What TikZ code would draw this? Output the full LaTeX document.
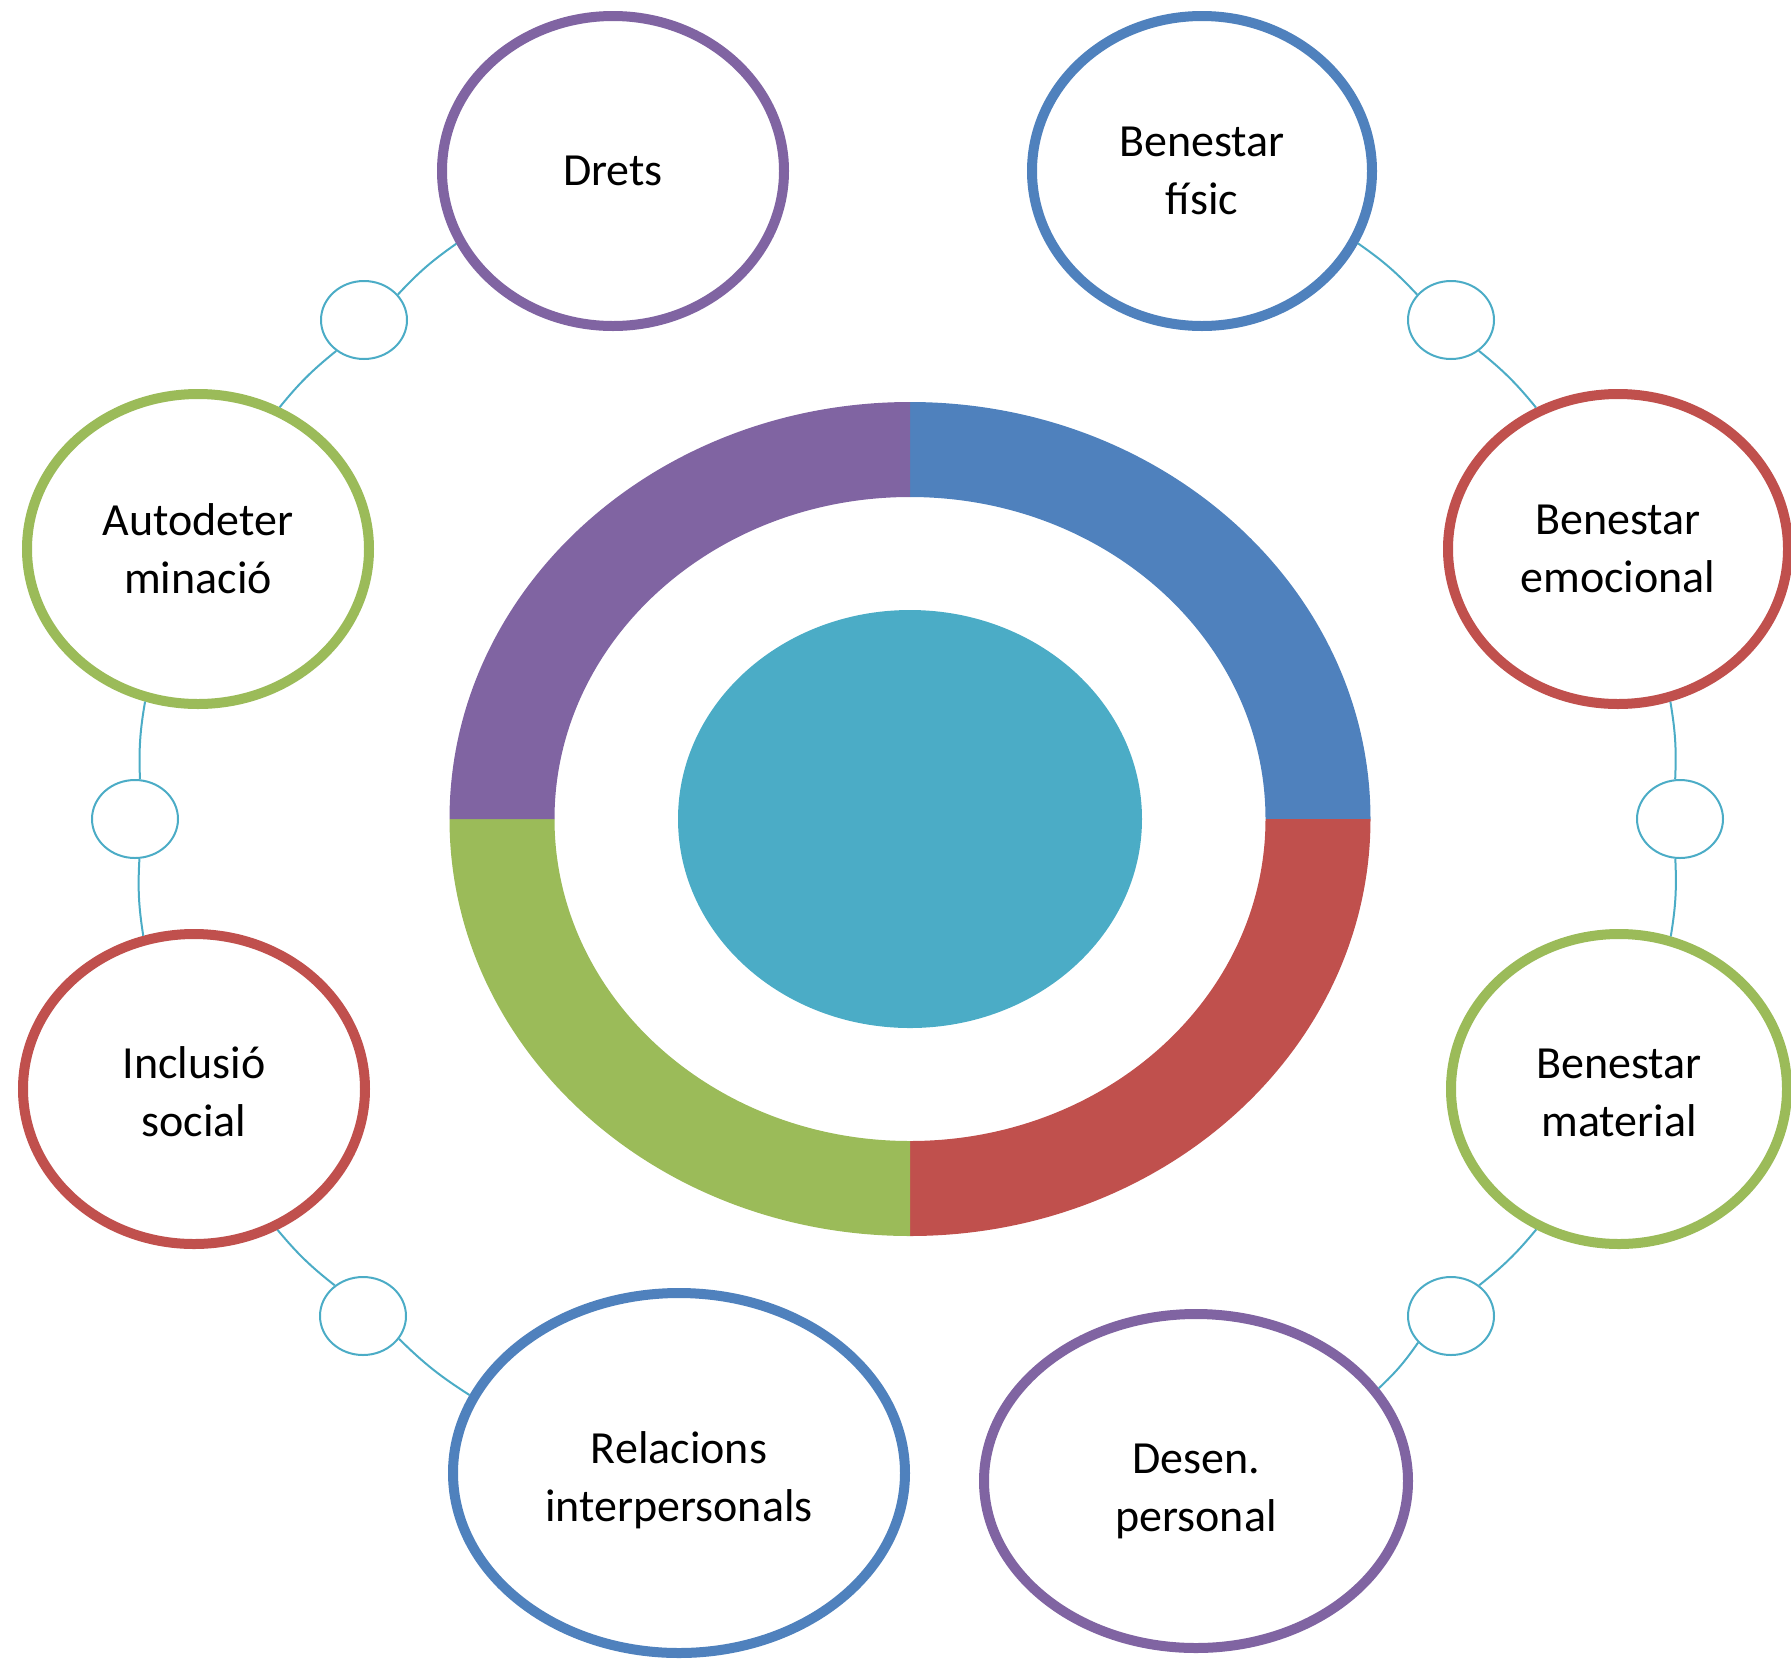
\documentclass[tikz,border=0pt]{standalone}
\usepackage{fontspec}
\setmainfont{Carlito}
\usetikzlibrary{shapes.geometric}
\definecolor{cblue}{HTML}{4F81BD}
\definecolor{cred}{HTML}{C0504D}
\definecolor{cgreen}{HTML}{9BBB59}
\definecolor{cpurple}{HTML}{8064A2}
\definecolor{cteal}{HTML}{4BACC6}
\begin{document}
\begin{tikzpicture}[x=1pt,y=1pt,
  big/.style={ellipse, draw, line width=10pt, fill=white, inner sep=0pt, align=center,
    font=\fontsize{46}{58}\selectfont, text=black},
  small/.style={ellipse, draw=cteal, line width=2pt, fill=white, minimum width=86pt,
    minimum height=78pt, inner sep=0pt},
  conn/.style={draw=cteal, line width=2pt}]
\useasboundingbox (0,0) rectangle (1791,-1658);
% central ring
\fill[cblue] (910,-402) arc[start angle=90,end angle=0,x radius=460.5,y radius=417]
  -- (1265.5,-819) arc[start angle=0,end angle=90,x radius=355.5,y radius=322] -- cycle;
\fill[cred] (1370.5,-819) arc[start angle=0,end angle=-90,x radius=460.5,y radius=417]
  -- (910,-1141) arc[start angle=-90,end angle=0,x radius=355.5,y radius=322] -- cycle;
\fill[cgreen] (910,-1236) arc[start angle=270,end angle=180,x radius=460.5,y radius=417]
  -- (554.5,-819) arc[start angle=180,end angle=270,x radius=355.5,y radius=322] -- cycle;
\fill[cpurple] (449.5,-819) arc[start angle=180,end angle=90,x radius=460.5,y radius=417]
  -- (910,-497) arc[start angle=90,end angle=180,x radius=355.5,y radius=322] -- cycle;
\node[ellipse, fill=cteal, minimum width=464pt, minimum height=418pt, inner sep=0pt] (core) at (910,-819) {};
% outer nodes
\node[big, draw=cpurple, minimum width=342pt, minimum height=310pt] (drets) at (613,-171) {Drets};
\node[big, draw=cblue, minimum width=340pt, minimum height=310pt] (fisic) at (1202,-171) {Benestar\\físic};
\node[big, draw=cgreen, minimum width=342pt, minimum height=310pt] (autodet) at (198,-549) {Autodeter\\minació};
\node[big, draw=cred, minimum width=340pt, minimum height=310pt] (emoc) at (1618,-549) {Benestar\\emocional};
\node[big, draw=cred, minimum width=342pt, minimum height=310pt] (incl) at (194,-1089) {\rule{0pt}{38pt}Inclusió\\social};
\node[big, draw=cgreen, minimum width=336pt, minimum height=310pt] (mat) at (1619,-1089) {\rule{0pt}{38pt}Benestar\\material};
\node[big, draw=cblue, minimum width=452pt, minimum height=360pt] (rel) at (679,-1473) {\rule{0pt}{46pt}Relacions\\interpersonals};
\node[big, draw=cpurple, minimum width=424pt, minimum height=334pt] (desen) at (1196,-1481) {\rule{0pt}{50pt}Desen.\\personal};
% small circles
\node[small] (s1) at (364,-320) {};
\node[small] (s2) at (135,-819) {};
\node[small] (s3) at (363,-1316) {};
\node[small] (s4) at (1451,-320) {};
\node[small] (s5) at (1680,-819) {};
\node[small] (s6) at (1451,-1316) {};
% connectors
\draw[conn] (drets) to[bend right=6] (s1);
\draw[conn] (s1) to[bend right=6] (autodet);
\draw[conn] (autodet) to[bend right=6] (s2);
\draw[conn] (s2) to[bend right=6] (incl);
\draw[conn] (incl) to[bend right=6] (s3);
\draw[conn] (s3) to[bend right=6] (rel);
\draw[conn] (fisic) to[bend left=6] (s4);
\draw[conn] (s4) to[bend left=6] (emoc);
\draw[conn] (emoc) to[bend left=6] (s5);
\draw[conn] (s5) to[bend left=6] (mat);
\draw[conn] (mat) to[bend left=6] (s6);
\draw[conn] (s6) to[bend left=6] (desen);
\end{tikzpicture}
\end{document}
